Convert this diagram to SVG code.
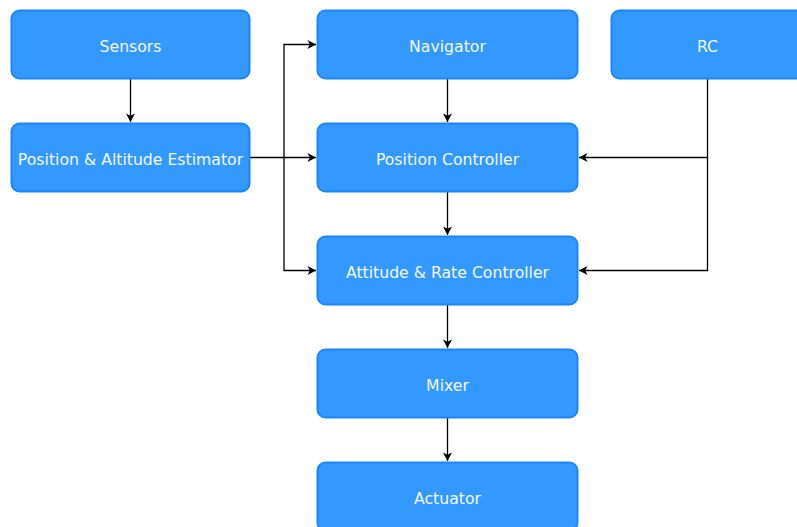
<svg xmlns="http://www.w3.org/2000/svg" width="797" height="527" viewBox="0 0 797 527">
<style>
.box{fill:#3399ff;stroke:#1a85ff;stroke-width:2}
.lbl{font-family:"DejaVu Sans",Verdana,sans-serif;font-size:15.7px;fill:#f4f8ff;text-anchor:middle}
.edge{fill:none;stroke:#000;stroke-width:1.3}
</style>
<defs>
<marker id="arr" markerUnits="userSpaceOnUse" markerWidth="10" markerHeight="10" viewBox="0 0 10 10" refX="9" refY="5" orient="auto">
<path d="M0.5,0.5 L9,5 L0.5,9.5 L2.8,5 Z" fill="#000"/>
</marker>
</defs>
<g id="connectors">
<path class="edge" d="M130.5,79 V122" marker-end="url(#arr)"/>
<path class="edge" d="M250,157.5 H316" marker-end="url(#arr)"/>
<path class="edge" d="M284,157.5 V44.5 H316" marker-end="url(#arr)"/>
<path class="edge" d="M284,157.5 V270.5 H316" marker-end="url(#arr)"/>
<path class="edge" d="M447.5,79 V122" marker-end="url(#arr)"/>
<path class="edge" d="M447.5,192 V235" marker-end="url(#arr)"/>
<path class="edge" d="M447.5,305 V348" marker-end="url(#arr)"/>
<path class="edge" d="M447.5,418 V461" marker-end="url(#arr)"/>
<path class="edge" d="M707.5,79 V157.5 H579" marker-end="url(#arr)"/>
<path class="edge" d="M707.5,157.5 V270.5 H579" marker-end="url(#arr)"/>
</g>
<g id="sensors"><rect class="box" x="11.5" y="10.5" width="238" height="68" rx="8"/><text class="lbl" x="130.5" y="52">Sensors</text></g>
<g id="estimator"><rect class="box" x="11.5" y="123.5" width="238" height="68" rx="8"/><text class="lbl" x="130.5" y="165">Position &amp; Altitude Estimator</text></g>
<g id="navigator"><rect class="box" x="317.5" y="10.5" width="260" height="68" rx="8"/><text class="lbl" x="447.5" y="52">Navigator</text></g>
<g id="rc"><rect class="box" x="611.5" y="10.5" width="192" height="68" rx="8"/><text class="lbl" x="707.5" y="52">RC</text></g>
<g id="position-controller"><rect class="box" x="317.5" y="123.5" width="260" height="68" rx="8"/><text class="lbl" x="447.5" y="165">Position Controller</text></g>
<g id="attitude-controller"><rect class="box" x="317.5" y="236.5" width="260" height="68" rx="8"/><text class="lbl" x="447.5" y="278">Attitude &amp; Rate Controller</text></g>
<g id="mixer"><rect class="box" x="317.5" y="349.5" width="260" height="68" rx="8"/><text class="lbl" x="447.5" y="391">Mixer</text></g>
<g id="actuator"><rect class="box" x="317.5" y="462.5" width="260" height="68" rx="8"/><text class="lbl" x="447.5" y="504">Actuator</text></g>
</svg>
